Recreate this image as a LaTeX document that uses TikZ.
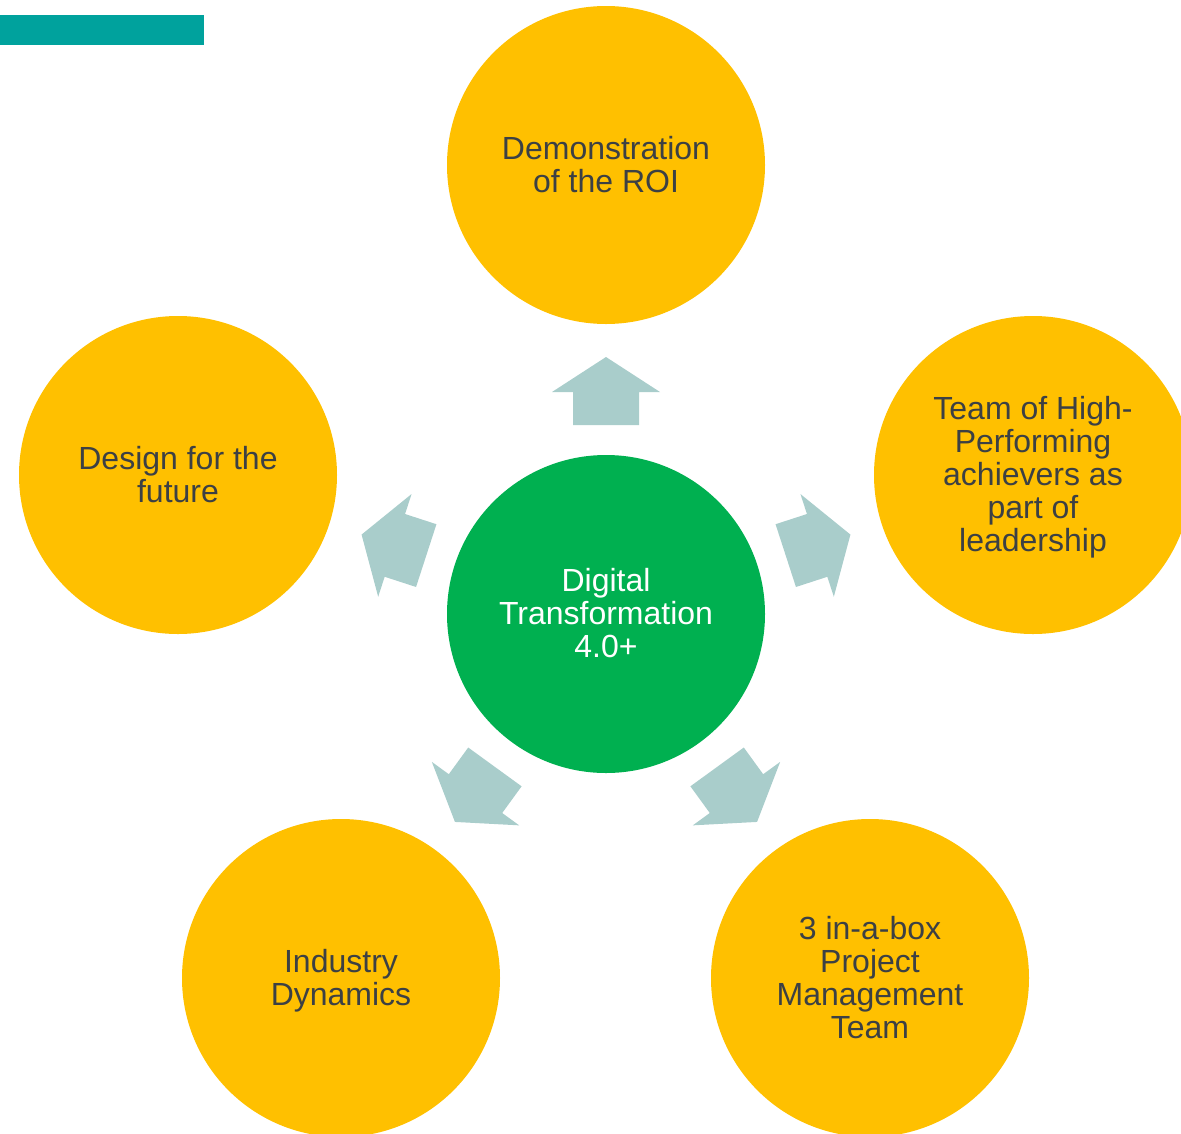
\documentclass[tikz,border=0pt]{standalone}
\usepackage{fontspec}
\setmainfont{Liberation Sans}
\definecolor{gold}{HTML}{FFC000}
\definecolor{leaf}{HTML}{00B050}
\definecolor{mist}{HTML}{A9CDCB}
\definecolor{bar}{HTML}{00A29D}
\definecolor{ink}{HTML}{3C4044}
\tikzset{
  outer/.style={circle, fill=gold, minimum size=318pt, inner sep=0pt, draw=none},
  hub/.style={circle, fill=leaf, minimum size=318pt, inner sep=0pt, draw=none},
  lbl/.style={align=center, text=ink, font=\fontsize{32}{33}\selectfont, inner sep=0pt, yshift=1pt},
  hublbl/.style={align=center, text=white, font=\fontsize{32}{33}\selectfont, inner sep=0pt, yshift=1pt},
  blockarrow/.style={fill=mist, draw=none}
}
\begin{document}
\begin{tikzpicture}[x=1pt,y=-1pt]
\useasboundingbox (0,0) rectangle (1181,1133);
\clip (0,0) rectangle (1181,1133);
\fill[bar] (0,15) rectangle (204,44.7);

\node[hub] (c) at (606,614) {};
\node[outer] (t) at (606,165) {};
\node[outer] (r) at (1033,475) {};
\node[outer] (br) at (870,978) {};
\node[outer] (bl) at (341,978) {};
\node[outer] (l) at (178,475) {};

\foreach \ang in {0,-72,-144,-216,-288}{
  \begin{scope}[shift={(c.center)}, rotate=\ang]
    \fill[blockarrow] (-33,-189) -- (-33,-222) -- (-54,-222) -- (0,-257) -- (54,-222) -- (33,-222) -- (33,-189) -- cycle;
  \end{scope}
}

\node[hublbl] (ct) at (c.center) {Digital\\Transformation\\\smash{4.0+}};
\node[lbl] (tt) at (t.center) {Demonstration\\\smash{of the ROI}};
\node[lbl] (rt) at (r.center) {Team of High-\\Performing\\achievers as\\part of\\\smash{leadership}};
\node[lbl] (brt) at (br.center) {3 in-a-box\\Project\\Management\\\smash{Team}};
\node[lbl] (blt) at (bl.center) {Industry\\\smash{Dynamics}};
\node[lbl] (lt) at (l.center) {Design for the\\\smash{future}};
\end{tikzpicture}
\end{document}
